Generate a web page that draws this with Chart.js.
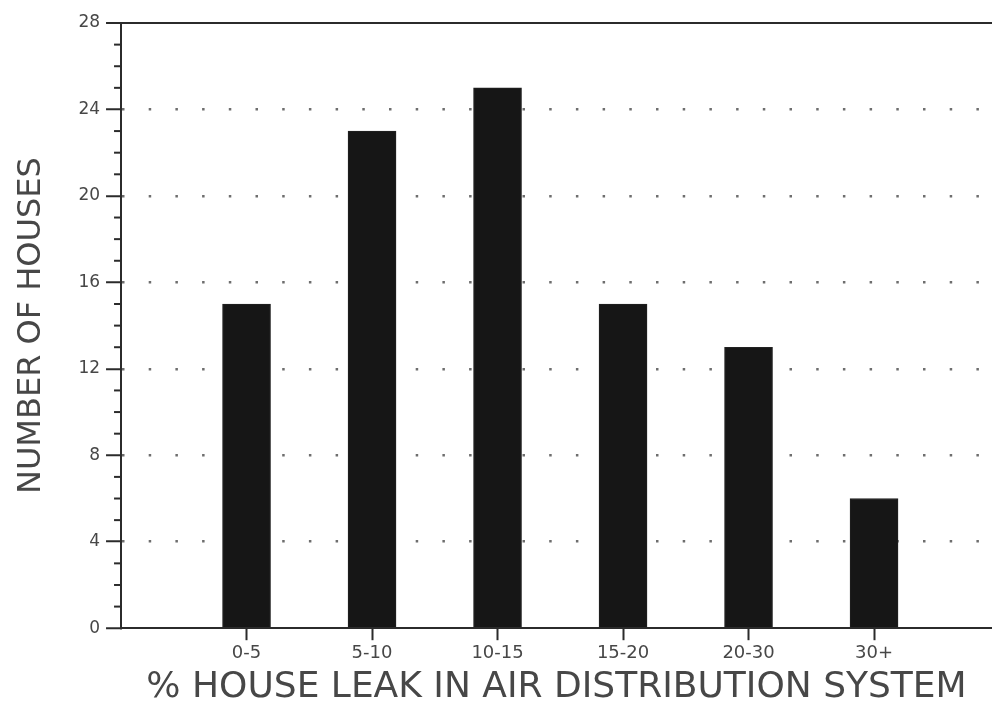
<!DOCTYPE html>
<html>
<head>
<meta charset="utf-8">
<script src="https://cdn.jsdelivr.net/npm/chart.js@4/dist/chart.umd.min.js"></script>
<style>
  html, body { margin: 0; padding: 0; background: #fff; }
  #wrap { width: 992px; height: 717px; }
</style>
</head>
<body>
<div id="wrap"><canvas id="leakChart"></canvas></div>
<script>
// leak ranges (%) and number of houses in each
const categories = ['0-5', '5-10', '10-15', '15-20', '20-30', '30+'];
const houses = [15, 23, 25, 15, 13, 6];
const yTicks = [0, 4, 8, 12, 16, 20, 24, 28];

const ink = '#2b2b2b';
const textInk = '#474747';

// short minor ticks on the y axis, every unit
const minorTicks = {
    id: 'minorTicks',
    afterDraw(chart) {
        const y = chart.scales.y;
        const ctx = chart.ctx;
        ctx.save();
        ctx.strokeStyle = ink;
        ctx.lineWidth = 2;
        for (let v = y.min; v <= y.max; v++) {
            if (v % 4 === 0) continue;
            const py = y.getPixelForValue(v);
            ctx.beginPath();
            ctx.moveTo(y.right - 7, py);
            ctx.lineTo(y.right, py);
            ctx.stroke();
        }
        ctx.restore();
    }
};

new Chart(document.getElementById('leakChart'), {
    type: 'bar',
    data: {
        datasets: [{
            label: 'Houses',
            data: houses.map((h, i) => ({ x: i + 1, y: h })),
            backgroundColor: '#161616',
            borderColor: '#222',
            borderWidth: 1,
            barThickness: 48
        }]
    },
    options: {
        responsive: true,
        maintainAspectRatio: false,
        animation: false,
        layout: { padding: { top: 23, left: 12, right: 0, bottom: 8 } },
        plugins: { legend: { display: false }, tooltip: { enabled: false } },
        scales: {
            x: {
                type: 'linear',
                min: 0,
                max: 6.94,
                offset: false,
                afterBuildTicks: axis => {
                    axis.ticks = categories.map((c, i) => ({ value: i + 1 }));
                },
                grid: {
                    offset: false,
                    drawOnChartArea: false,
                    drawTicks: true,
                    tickLength: 12,
                    tickColor: ink,
                    tickWidth: 2
                },
                border: { display: true, color: ink, width: 2 },
                ticks: {
                    autoSkip: false,
                    maxRotation: 0,
                    padding: 2,
                    color: textInk,
                    font: { family: 'DejaVu Sans', size: 18 },
                    callback: v => categories[v - 1]
                },
                title: {
                    display: true,
                    text: '% HOUSE LEAK IN AIR DISTRIBUTION SYSTEM',
                    color: textInk,
                    font: { family: 'DejaVu Sans', size: 36 },
                    padding: { top: 0, bottom: 0 }
                }
            },
            y: {
                min: 0,
                max: 28,
                afterBuildTicks: axis => {
                    axis.ticks = yTicks.map(v => ({ value: v }));
                },
                grid: {
                    drawTicks: true,
                    tickLength: 15,
                    tickColor: ink,
                    tickWidth: 2,
                    color: ctx => {
                        const v = ctx.tick ? ctx.tick.value : 0;
                        if (v === 0) return 'rgba(0,0,0,0)';
                        if (v === 28) return ink;
                        return '#6e6e6e';
                    },
                    lineWidth: ctx => (ctx.tick && ctx.tick.value === 28) ? 2 : 2.5
                },
                border: {
                    display: true,
                    color: ink,
                    width: 2,
                    dash: ctx => (ctx.tick && ctx.tick.value === 28) ? [] : [2.5, 24.2],
                    dashOffset: 0
                },
                ticks: {
                    autoSkip: false,
                    padding: 6,
                    color: textInk,
                    font: { family: 'DejaVu Sans', size: 17 }
                },
                title: {
                    display: true,
                    text: 'NUMBER OF HOUSES',
                    color: textInk,
                    font: { family: 'DejaVu Sans', size: 32 },
                    padding: { top: 0, bottom: 22 }
                }
            }
        }
    },
    plugins: [minorTicks]
});
</script>
</body>
</html>
